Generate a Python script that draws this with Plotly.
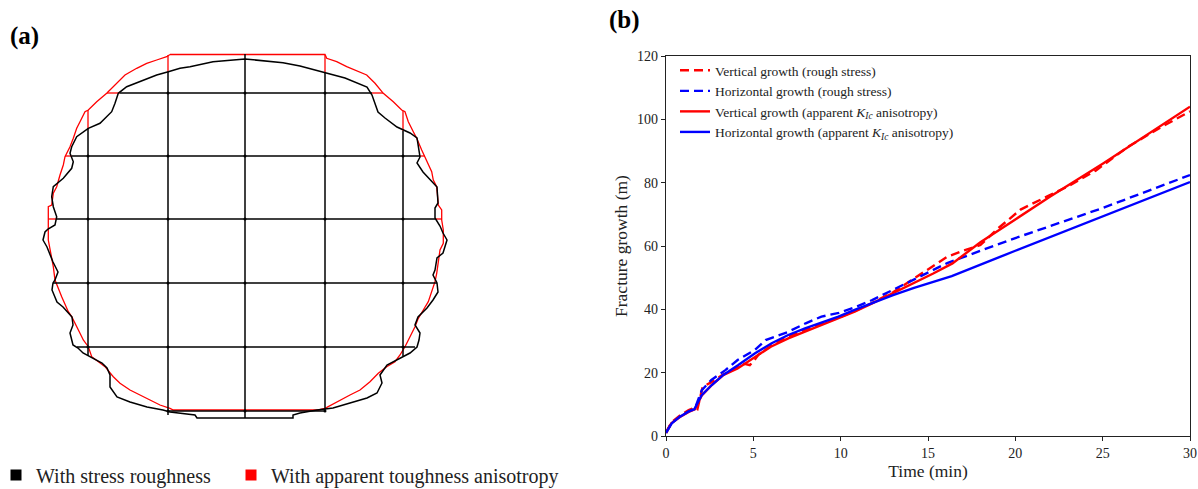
import plotly.graph_objects as go

# ---------------- Panel (b) data: fracture growth vs time ----------------
t_vert_rough = [0, 0.3, 0.8, 1.3, 1.65, 1.8, 2.1, 2.6, 3.2, 4.0, 4.5, 4.8, 5.0, 5.3, 6.0, 7.0, 8.0,
                8.9, 9.9, 10.8, 11.8, 13.0, 14.2, 15.2, 16.1, 17.0, 18.0, 19.0, 20.3, 21.8, 23.0,
                24.6, 26.5, 28.4, 30.0]
v_vert_rough = [1.0, 4.2, 6.5, 8.2, 9.0, 8.5, 15.5, 17.0, 19.2, 21.5, 22.8, 22.4, 23.5, 25.7, 28.4,
                31.4, 33.7, 35.5, 37.4, 39.4, 42.0, 45.4, 49.8, 53.5, 56.6, 58.5, 60.3, 65.5, 71.5,
                75.6, 78.8, 83.8, 91.5, 97.7, 102.5]

t_horz_rough = [0, 0.3, 0.8, 1.3, 1.65, 2.05, 2.6, 3.4, 4.1, 5.1, 5.7, 7.0, 8.0, 8.9, 9.9, 10.8,
                11.8, 13.0, 14.2, 16.1, 18.0, 20.0, 25.0, 30.0]
v_horz_rough = [1.0, 4.0, 6.2, 7.8, 8.6, 14.5, 17.7, 20.8, 24.0, 27.2, 30.3, 32.9, 35.6, 37.7, 38.9,
                40.6, 42.9, 46.1, 49.5, 54.6, 58.5, 62.5, 72.0, 82.4]

t_vert_aniso = [0, 0.3, 0.8, 1.3, 1.65, 2.05, 2.6, 3.3, 4.1, 5.1, 6.0, 7.0, 8.0, 8.9, 9.9, 10.8,
                11.8, 13.0, 14.2, 15.3, 16.4, 18.0, 20.0, 22.0, 25.0, 27.5, 30.0]
v_vert_aniso = [1.0, 4.0, 6.0, 7.6, 8.4, 12.8, 16.0, 19.3, 21.3, 24.8, 28.2, 30.8, 33.0, 35.1, 37.2,
                39.3, 41.9, 45.1, 48.3, 51.3, 54.5, 61.2, 68.4, 75.6, 86.0, 95.0, 104.0]

t_horz_aniso = [0, 0.33, 0.8, 1.28, 1.62, 2.04, 2.62, 3.28, 4.14, 5.1, 6.05, 7.0, 7.96, 8.9, 9.87,
                10.8, 11.78, 13.0, 14.2, 16.36, 20.0, 25.0, 30.0]
v_horz_aniso = [1.0, 4.0, 6.1, 7.7, 8.4, 12.9, 16.1, 19.3, 22.4, 26.1, 29.3, 31.9, 34.0, 35.8, 37.7,
                39.8, 41.9, 44.5, 46.8, 50.5, 58.5, 69.4, 80.2]

x_ticks = [0, 5, 10, 15, 20, 25, 30]
y_ticks = [0, 20, 40, 60, 80, 100, 120]

# ---------------- Panel (a) data: fracture footprints (drawing units) ----------------
rough_x = [245, 255, 283, 300, 325, 345, 367, 372, 378, 385, 397, 410, 417, 419, 420, 417, 423, 437,
           438, 435, 435, 440, 443, 447, 443, 437, 435, 433, 437, 438, 433, 427, 418, 415, 420, 419,
           417, 410, 400, 387, 380, 382, 377, 367, 350, 333, 317, 300, 293, 293, 197, 195, 170, 163,
           147, 130, 117, 110, 110, 107, 102, 92, 83, 78, 73, 70, 73, 72, 63, 57, 52, 53, 55, 58, 53,
           47, 43, 45, 48, 55, 56.7, 53.3, 51.7, 53.3, 63.3, 71.7, 73.3, 70, 71.7, 76.7, 88.3, 100,
           111.7, 115, 118.3, 126.7, 140, 156.7, 168.3, 180, 190, 213, 245]
rough_y = [59, 60, 62.7, 66, 73, 78, 87, 95, 112, 118, 127, 133, 138, 150, 157, 163, 172, 187, 203,
           208, 218, 226, 233, 240, 253, 258, 270, 275, 283, 292, 300, 308, 317, 325, 333, 340, 347,
           353, 358, 365, 375, 383, 393, 398, 403, 408, 410, 413, 415, 418, 418, 415, 412, 410, 407,
           402, 397, 387, 375, 368, 363, 358, 353, 348, 345, 333, 325, 317, 307, 302, 290, 283, 280,
           272, 262, 247, 240, 232, 229, 225, 216.7, 206.7, 196.7, 186.7, 178.3, 168.3, 161.7, 153.3,
           146.7, 136.7, 128.3, 123.3, 111.7, 103.3, 93.3, 86.7, 81.7, 75, 71.7, 68.3, 66.7, 61.7, 59]

aniso_x = [170, 325, 326.7, 336.7, 346.7, 358.3, 366.7, 375, 383.3, 393.3, 401.7, 405, 408.3, 413.3,
           416.7, 421.7, 425, 428.3, 431.7, 433.3, 436.7, 437.3, 438.3, 441.7, 441.7, 443.3, 443.3,
           440, 438.3, 436.7, 435, 431.7, 428.3, 423.3, 418.3, 415, 410, 405, 400, 395, 386.7, 378.3,
           370, 360, 350, 340, 330, 325, 318.3, 173.3, 170, 160, 150, 140, 130, 120, 113.3, 105, 98.3,
           91.7, 88.3, 83.3, 80, 76.7, 71.7, 68.3, 65, 61.7, 58.3, 55, 53.3, 51.7, 50, 48.3, 48.3,
           51.7, 53.3, 56.7, 60, 63.3, 65, 70, 73.3, 76.7, 80, 85, 88.3, 96.7, 106.7, 116.7, 125,
           136.7, 146.7, 156.7, 166.7, 170]
aniso_y = [54.5, 54.5, 58.3, 61.7, 66.7, 71.7, 75, 83.3, 93.3, 101.7, 110, 111.7, 121.7, 131.7,
           138.3, 150, 156.7, 165, 171.7, 180, 186.7, 193.3, 205, 210, 220, 230, 243.3, 250, 263.3,
           273.3, 281.7, 291.7, 301.7, 310, 318.3, 326.7, 336.7, 346.7, 355, 361.7, 366.7, 373.3,
           381.7, 390, 395, 400, 405, 408.3, 410, 410, 408.3, 405, 400, 395, 390, 383.3, 376.7,
           366.7, 361.7, 356.7, 346.7, 340, 333.3, 326.7, 316.7, 311.7, 305, 296.7, 288.3, 280,
           266.7, 256.7, 250, 240, 206.7, 205, 193.3, 186.7, 175, 165, 156.7, 146.7, 138.3, 128.3,
           121.7, 111.7, 110, 101.7, 93.3, 83.3, 75, 68.3, 63.3, 60, 56.7, 54.5]

# mesh lines: positions and their extents for each footprint
mesh_cols = [88, 168, 245, 325, 403]
mesh_rows = [93, 156, 219, 283, 347, 411]
rough_col_top = [128, 72, 54, 73, 131]
rough_col_bot = [356, 415, 418, 411, 356]
rough_row_left = [120, 72, 57, 53, 77, 168]
rough_row_right = [372, 420, 435, 437, 415, 325]
aniso_col_top = [110, 55, 54, 55, 111]
aniso_col_bot = [347, 410, 411, 408, 350]
aniso_row_left = [107, 65, 48, 55, 88, 172]
aniso_row_right = [383, 425, 442, 435, 405, 318]


def mesh_xy(cols, rows, ctop, cbot, rleft, rright):
    xs, ys = [], []
    for c, a, b in zip(cols, ctop, cbot):
        xs += [c, c, None]
        ys += [a, b, None]
    for r, a, b in zip(rows, rleft, rright):
        xs += [a, b, None]
        ys += [r, r, None]
    return xs, ys


def mesh_outside(cols, rows, ctop, cbot, rleft, rright, btop, bbot, bleft, bright):
    """Parts of one mesh lying outside the other (black) footprint's mesh."""
    xs, ys = [], []
    for c, a, b, ba, bb in zip(cols, ctop, cbot, btop, bbot):
        if ba > a:
            xs += [c, c, None]
            ys += [a, ba, None]
        if b > bb:
            xs += [c, c, None]
            ys += [bb, b, None]
    for r, a, b, ba, bb in zip(rows, rleft, rright, bleft, bright):
        if ba > a:
            xs += [a, ba, None]
            ys += [r, r, None]
        if b > bb:
            xs += [bb, b, None]
            ys += [r, r, None]
    return xs, ys


def mesh_nodes(cols, rows, ctop, cbot, rleft, rright):
    xs, ys = [], []
    for c, a, b in zip(cols, ctop, cbot):
        for r, l, rr in zip(rows, rleft, rright):
            if a <= r <= b and l <= c <= rr:
                xs.append(c)
                ys.append(r)
    return xs, ys


RED = "#ff0000"
BLUE = "#0000ff"
FONT = "Liberation Serif"
W, H = 1198, 489

fig = go.Figure()

# ---- panel (a) ----
ax, ay = mesh_outside(mesh_cols, mesh_rows, aniso_col_top, aniso_col_bot, aniso_row_left,
                      aniso_row_right, rough_col_top, rough_col_bot, rough_row_left, rough_row_right)
fig.add_trace(go.Scatter(x=ax, y=ay, mode="lines", line=dict(color=RED, width=1.3),
                         showlegend=False, hoverinfo="skip", xaxis="x", yaxis="y"))
fig.add_trace(go.Scatter(x=aniso_x, y=aniso_y, mode="lines", line=dict(color=RED, width=1.3),
                         showlegend=False, hoverinfo="skip", xaxis="x", yaxis="y"))
fig.add_trace(go.Scatter(x=rough_x, y=rough_y, mode="lines", line=dict(color="black", width=1.5),
                         showlegend=False, hoverinfo="skip", xaxis="x", yaxis="y"))
rx, ry = mesh_xy(mesh_cols, mesh_rows, rough_col_top, rough_col_bot, rough_row_left, rough_row_right)
fig.add_trace(go.Scatter(x=rx, y=ry, mode="lines", line=dict(color="black", width=1.5),
                         showlegend=False, hoverinfo="skip", xaxis="x", yaxis="y"))
nx, ny = mesh_nodes(mesh_cols, mesh_rows, rough_col_top, rough_col_bot, rough_row_left, rough_row_right)
fig.add_trace(go.Scatter(x=nx, y=ny, mode="markers", marker=dict(color="black", size=3),
                         showlegend=False, hoverinfo="skip", xaxis="x", yaxis="y"))

# legend entries for panel (a)
fig.add_trace(go.Scatter(x=[None], y=[None], mode="markers", name="With stress roughness",
                         marker=dict(symbol="square", color="black", size=11),
                         legend="legend2", legendwidth=196, xaxis="x", yaxis="y"))
fig.add_trace(go.Scatter(x=[None], y=[None], mode="markers", name="With apparent toughness anisotropy",
                         marker=dict(symbol="square", color=RED, size=11),
                         legend="legend2", legendwidth=330, xaxis="x", yaxis="y"))

# ---- panel (b) ----
KIC = "<i>K</i><sub><i>Ic</i></sub>"
fig.add_trace(go.Scatter(x=t_vert_rough, y=v_vert_rough, mode="lines",
                         name="Vertical growth (rough stress)",
                         line=dict(color=RED, width=2.4, dash="9px,5px"), xaxis="x2", yaxis="y2"))
fig.add_trace(go.Scatter(x=t_horz_rough, y=v_horz_rough, mode="lines",
                         name="Horizontal growth (rough stress)",
                         line=dict(color=BLUE, width=2.4, dash="9px,5px"), xaxis="x2", yaxis="y2"))
fig.add_trace(go.Scatter(x=t_vert_aniso, y=v_vert_aniso, mode="lines",
                         name=f"Vertical growth (apparent {KIC} anisotropy)",
                         line=dict(color=RED, width=2.4), xaxis="x2", yaxis="y2"))
fig.add_trace(go.Scatter(x=t_horz_aniso, y=v_horz_aniso, mode="lines",
                         name=f"Horizontal growth (apparent {KIC} anisotropy)",
                         line=dict(color=BLUE, width=2.4), xaxis="x2", yaxis="y2"))

axis_common = dict(showline=True, linecolor="#222", linewidth=1.2, mirror=True, ticks="outside",
                   ticklen=4, tickwidth=1, tickcolor="#222", showgrid=False, zeroline=False,
                   automargin=False,
                   tickfont=dict(family=FONT, size=14, color="#222"),
                   title_font=dict(family=FONT, size=17.5, color="#222"))

fig.update_layout(
    width=W, height=H,
    margin=dict(l=0, r=0, t=0, b=0, autoexpand=False),
    paper_bgcolor="white", plot_bgcolor="white",
    font=dict(family=FONT, color="#222"),
    showlegend=True,
    xaxis=dict(domain=[0, 460 / W], range=[0, 460], visible=False, fixedrange=True),
    yaxis=dict(domain=[0, 1], range=[H, 0], visible=False, fixedrange=True),
    xaxis2=dict(domain=[666 / W, 1190 / W], range=[0, 30], tickvals=x_ticks, anchor="y2",
                title=dict(text="Time (min)", standoff=0), **axis_common),
    yaxis2=dict(domain=[(H - 436) / H, (H - 56) / H], range=[0, 120], tickvals=y_ticks, anchor="x2",
                title=dict(text="Fracture growth (m)", standoff=4), **axis_common),
    legend=dict(x=675 / W, y=1 - 55 / H, xanchor="left", yanchor="top", bgcolor="rgba(0,0,0,0)",
                font=dict(family=FONT, size=13.5, color="#222"), tracegroupgap=0, itemwidth=30),
    legend2=dict(orientation="h", x=2 / W, y=1 - 475 / H, xanchor="left", yanchor="middle",
                 indentation=-6, bgcolor="rgba(0,0,0,0)",
                 font=dict(family=FONT, size=20, color="#222")),
    annotations=[
        dict(text="<b>(a)</b>", x=8 / W, y=1 - 36 / H, xref="paper", yref="paper", xanchor="left",
             yanchor="middle", showarrow=False, font=dict(family=FONT, size=25, color="black")),
        dict(text="<b>(b)</b>", x=607 / W, y=1 - 20 / H, xref="paper", yref="paper", xanchor="left",
             yanchor="middle", showarrow=False, font=dict(family=FONT, size=25, color="black")),
    ],
)

fig.write_html("out.html")
